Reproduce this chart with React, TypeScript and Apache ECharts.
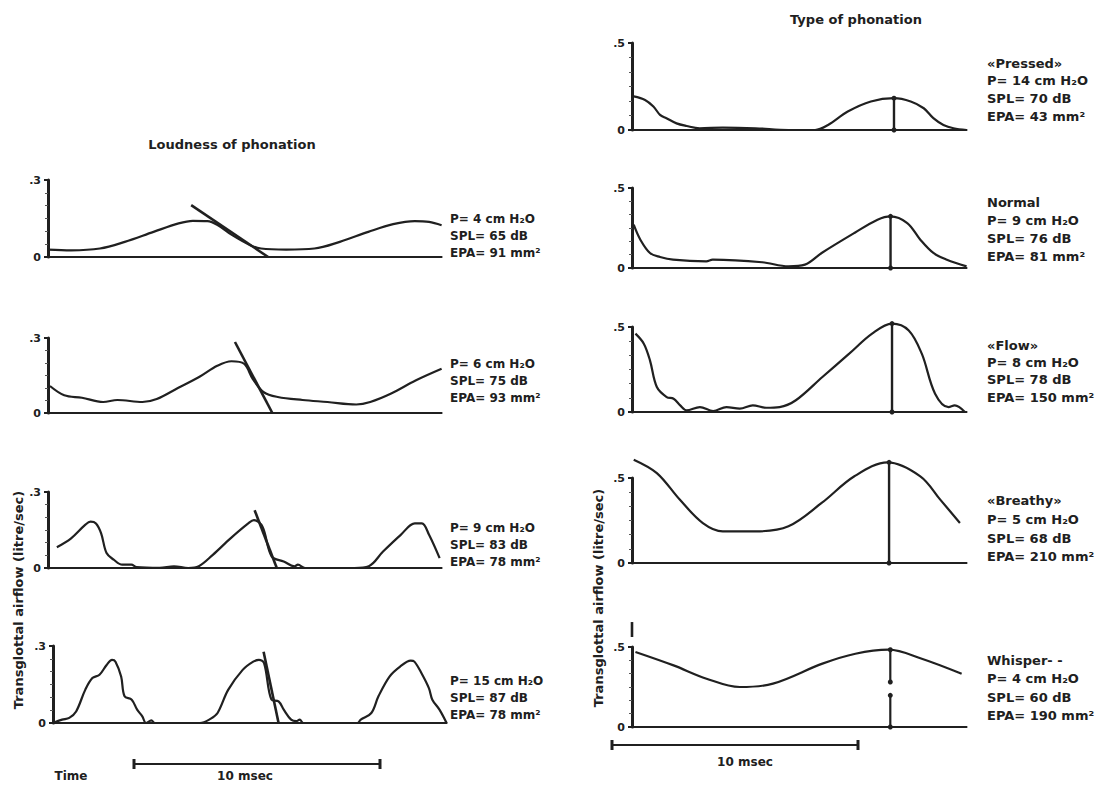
import React, { useEffect, useRef } from "react";
import * as echarts from "echarts";

// ---------- data (time in msec, transglottal airflow in litre/sec) ----------
const loudTitle = "Loudness of phonation";
const typeTitle = "Type of phonation";
const yAxisTitle = "Transglottal airflow (litre/sec)";
const timeLabel = "Time";
const scaleLabel = "10 msec";
const scaleLength = 10; // msec

const loudDuration = 16;
const typeDuration = 13.6;
const loudFullScale = 0.3;
const typeFullScale = 0.5;
const loudFullLabel = ".3";
const typeFullLabel = ".5";

const loud1Flow = [[0,0.029],[0.94,0.026],[2.11,0.033],[3.12,0.059],[4.29,0.098],[5.31,0.131],[5.89,0.141],[6.48,0.14],[6.91,0.124],[7.49,0.085],[8.22,0.046],[8.66,0.033],[9.68,0.029],[10.83,0.033],[11.86,0.059],[13.02,0.098],[14.03,0.128],[14.91,0.14],[15.49,0.137],[16.0,0.124]];
const loud1Slope = [[5.82,0.202],[8.95,0]];
const loud2Flow = [[0.08,0.108],[0.66,0.071],[1.38,0.061],[2.24,0.044],[2.82,0.052],[3.84,0.044],[4.42,0.056],[5.28,0.1],[6.16,0.145],[6.88,0.189],[7.46,0.207],[7.97,0.197],[8.32,0.137],[8.77,0.083],[9.34,0.064],[10.35,0.052],[11.36,0.044],[12.53,0.034],[13.1,0.044],[13.95,0.078],[14.94,0.13],[16.0,0.177]];
const loud2Slope = [[7.6,0.284],[9.12,0]];
const loud3Flow = [[0.36,0.082],[0.94,0.117],[1.51,0.17],[1.73,0.183],[1.95,0.176],[2.16,0.137],[2.38,0.059],[2.67,0.033],[3.02,0.013],[3.39,0.013],[3.6,0.004],[4.54,0.001],[5.12,0.007],[5.7,0],[6.13,0.007],[6.7,0.052],[7.42,0.117],[8.14,0.176],[8.37,0.189],[8.72,0.163],[9.09,0.046],[9.58,0.026],[10.02,0.007],[10.16,0.013],[10.45,0],[11.74,0],[12.46,0],[13.04,0.007],[13.62,0.065],[14.34,0.131],[14.91,0.176],[15.2,0.176],[15.49,0.131],[15.92,0.039]];
const loud3Slope = [[8.4,0.228],[9.3,0]];
const loud4Flow = [[0,0],[0.37,0.013],[0.66,0.02],[0.94,0.045],[1.31,0.129],[1.6,0.175],[1.89,0.188],[2.18,0.226],[2.4,0.246],[2.54,0.239],[2.77,0.181],[2.91,0.104],[3.2,0.091],[3.42,0.052],[3.63,0.026],[3.78,0],[4.0,0.01],[4.14,0],[5.97,0],[6.4,0.016],[6.69,0.039],[7.12,0.129],[7.71,0.207],[8.14,0.239],[8.37,0.246],[8.58,0.233],[8.88,0.091],[9.17,0.084],[9.38,0.052],[9.68,0.013],[9.89,0.007],[10.03,0.013],[10.18,0],[12.37,0],[12.51,0.013],[12.94,0.039],[13.23,0.104],[13.68,0.181],[14.11,0.22],[14.54,0.243],[14.69,0.239],[14.98,0.194],[15.28,0.136],[15.42,0.091],[15.71,0.052],[16.0,0]];
const loud4Slope = [[8.56,0.278],[9.17,0]];

const loudInfo = [
  ["P= 4 cm H₂O", "SPL= 65 dB", "EPA= 91 mm²"],
  ["P= 6 cm H₂O", "SPL= 75 dB", "EPA= 93 mm²"],
  ["P= 9 cm H₂O", "SPL= 83 dB", "EPA= 78 mm²"],
  ["P= 15 cm H₂O", "SPL= 87 dB", "EPA= 78 mm²"],
];

const type1Flow = [[0.07,0.193],[0.53,0.173],[0.87,0.135],[1.14,0.087],[1.4,0.068],[1.81,0.038],[2.22,0.023],[2.75,0.01],[3.69,0.014],[5.02,0.01],[6.36,0],[7.44,0],[7.97,0.029],[8.77,0.106],[9.71,0.164],[10.65,0.183],[11.33,0.164],[11.86,0.125],[12.25,0.068],[12.66,0.029],[13.07,0.01],[13.6,0]];
const type1Peak = [[10.65,0],[10.65,0.183]];
const type2Flow = [[0.07,0.271],[0.34,0.177],[0.73,0.094],[1.14,0.069],[1.67,0.052],[3.02,0.042],[3.28,0.052],[5.29,0.036],[6.36,0.01],[7.03,0.021],[7.71,0.094],[9.04,0.219],[9.98,0.302],[10.51,0.323],[11.19,0.281],[11.72,0.177],[12.25,0.094],[12.8,0.052],[13.6,0.01]];
const type2Peak = [[10.51,0],[10.51,0.323]];
const type3Flow = [[0.14,0.461],[0.48,0.402],[0.73,0.304],[1.01,0.147],[1.41,0.088],[1.69,0.078],[1.96,0.039],[2.22,0.01],[2.76,0.029],[3.3,0.006],[3.84,0.029],[4.38,0.02],[4.91,0.039],[5.45,0.025],[6.0,0.029],[6.66,0.069],[7.74,0.206],[8.83,0.343],[9.76,0.461],[10.57,0.52],[11.25,0.48],[11.78,0.343],[12.32,0.108],[12.87,0.029],[13.12,0.039],[13.53,0]];
const type3Peak = [[10.57,0],[10.57,0.52]];
const type4Flow = [[0.07,0.608],[1.01,0.529],[1.94,0.373],[2.88,0.235],[3.69,0.186],[5.02,0.186],[6.36,0.216],[7.71,0.353],[9.04,0.51],[10.39,0.592],[11.72,0.51],[12.53,0.373],[13.33,0.235]];
const type4Peak = [[10.45,0],[10.45,0.592]];
const type5Flow = [[0.14,0.469],[1.69,0.385],[3.03,0.302],[4.38,0.25],[5.73,0.271],[7.74,0.396],[9.08,0.458],[10.43,0.483],[11.78,0.427],[13.4,0.333]];
const type5PeakUpper = [[10.5,0.483],[10.5,0.281]];
const type5PeakLower = [[10.5,0.198],[10.5,0]];
const type5AxisMark = [[0,0.5625],[0,0.656]];

const typeNames = ["«Pressed»", "Normal", "«Flow»", "«Breathy»", "Whisper- -"];
const typeInfo = [
  ["P= 14 cm H₂O", "SPL= 70 dB", "EPA= 43 mm²"],
  ["P= 9 cm H₂O", "SPL= 76 dB", "EPA= 81 mm²"],
  ["P= 8 cm H₂O", "SPL= 78 dB", "EPA= 150 mm²"],
  ["P= 5 cm H₂O", "SPL= 68 dB", "EPA= 210 mm²"],
  ["P= 4 cm H₂O", "SPL= 60 dB", "EPA= 190 mm²"],
];

// ---------- layout / style ----------
const INK = "#202020";
const FONT = '"DejaVu Sans", "Liberation Sans", sans-serif';
const PX_PER_MS = 24.6;

type Panel = {
  flow: number[][];
  slopes: number[][][];
  peaks: number[][][];
  dashed: number[][][];
  full: number;
  fullLabel: string;
  dur: number;
  left: number;
  top: number;
  bottom: number;
};

const panels: Panel[] = [
  { flow: loud1Flow, slopes: [loud1Slope], peaks: [], dashed: [], full: loudFullScale, fullLabel: loudFullLabel, dur: loudDuration, left: 48, top: 180, bottom: 257 },
  { flow: loud2Flow, slopes: [loud2Slope], peaks: [], dashed: [], full: loudFullScale, fullLabel: loudFullLabel, dur: loudDuration, left: 48, top: 338, bottom: 413 },
  { flow: loud3Flow, slopes: [loud3Slope], peaks: [], dashed: [], full: loudFullScale, fullLabel: loudFullLabel, dur: loudDuration, left: 48, top: 492, bottom: 568 },
  { flow: loud4Flow, slopes: [loud4Slope], peaks: [], dashed: [], full: loudFullScale, fullLabel: loudFullLabel, dur: loudDuration, left: 53, top: 646, bottom: 723 },
  { flow: type1Flow, slopes: [], peaks: [type1Peak], dashed: [], full: typeFullScale, fullLabel: typeFullLabel, dur: typeDuration, left: 632, top: 43, bottom: 130 },
  { flow: type2Flow, slopes: [], peaks: [type2Peak], dashed: [], full: typeFullScale, fullLabel: typeFullLabel, dur: typeDuration, left: 632, top: 188, bottom: 268 },
  { flow: type3Flow, slopes: [], peaks: [type3Peak], dashed: [], full: typeFullScale, fullLabel: typeFullLabel, dur: typeDuration, left: 632, top: 327, bottom: 412 },
  { flow: type4Flow, slopes: [], peaks: [type4Peak], dashed: [], full: typeFullScale, fullLabel: typeFullLabel, dur: typeDuration, left: 632, top: 478, bottom: 563 },
  { flow: type5Flow, slopes: [type5AxisMark], peaks: [], dashed: [type5PeakUpper, type5PeakLower], full: typeFullScale, fullLabel: typeFullLabel, dur: typeDuration, left: 632, top: 647, bottom: 727 },
];

const loudTextPos = [
  { x: 450, y: [219, 236, 253] },
  { x: 450, y: [364, 381, 398] },
  { x: 450, y: [528, 545, 562] },
  { x: 450, y: [681, 698, 715] },
];
const typeTextPos = [
  { x: 987, y: [63, 80, 98, 116] },
  { x: 987, y: [202, 220, 238, 256] },
  { x: 987, y: [345, 362, 379, 397] },
  { x: 987, y: [500, 519, 538, 556] },
  { x: 987, y: [660, 678, 697, 715] },
];

function txt(text: string, x: number, y: number, size: number, align = "left", rotation = 0) {
  return {
    type: "text",
    x,
    y,
    rotation,
    silent: true,
    style: {
      text,
      fill: INK,
      font: `bold ${size}px ${FONT}`,
      textAlign: align,
      textVerticalAlign: "middle",
    },
  };
}

function scaleBar(x1: number, x2: number, y: number) {
  const ls = { stroke: INK, lineWidth: 2 };
  return [
    { type: "line", silent: true, shape: { x1, y1: y, x2, y2: y }, style: ls },
    { type: "line", silent: true, shape: { x1, y1: y - 5, x2: x1, y2: y + 5 }, style: { stroke: INK, lineWidth: 3 } },
    { type: "line", silent: true, shape: { x1: x2, y1: y - 5, x2, y2: y + 5 }, style: { stroke: INK, lineWidth: 3 } },
  ];
}

function buildOption() {
  const grid: any[] = [];
  const xAxis: any[] = [];
  const yAxis: any[] = [];
  const series: any[] = [];

  panels.forEach((p, i) => {
    grid.push({ left: p.left, top: p.top, width: p.dur * PX_PER_MS, height: p.bottom - p.top, containLabel: false });
    xAxis.push({
      gridIndex: i, type: "value", min: 0, max: p.dur,
      axisLine: { show: true, onZero: true, lineStyle: { color: INK, width: 2 } },
      axisTick: { show: false }, axisLabel: { show: false }, splitLine: { show: false },
    });
    yAxis.push({
      gridIndex: i, type: "value", min: 0, max: p.full, interval: p.full,
      axisLine: { show: true, lineStyle: { color: INK, width: 3 } },
      axisTick: { show: true, length: 4, lineStyle: { color: INK, width: 2 } },
      minorTick: { show: true, splitNumber: 6, length: 3, lineStyle: { color: "#555", width: 1 } },
      axisLabel: {
        show: true, margin: 7, color: INK, fontSize: 11, fontWeight: "bold", fontFamily: FONT,
        formatter: (v: number) => (Math.abs(v) < 1e-9 ? "0" : p.fullLabel),
      },
      splitLine: { show: false },
    });
    series.push({
      type: "line", xAxisIndex: i, yAxisIndex: i, data: p.flow, showSymbol: false,
      smooth: 0.35, clip: false, silent: true,
      lineStyle: { color: INK, width: 2.2 },
    });
    p.slopes.forEach((s) =>
      series.push({
        type: "line", xAxisIndex: i, yAxisIndex: i, data: s, showSymbol: false,
        clip: false, silent: true, lineStyle: { color: INK, width: 2.6 },
      })
    );
    p.peaks.forEach((s) =>
      series.push({
        type: "line", xAxisIndex: i, yAxisIndex: i, data: s, showSymbol: true,
        symbol: "circle", symbolSize: 5, itemStyle: { color: INK },
        clip: false, silent: true, lineStyle: { color: INK, width: 2.4 },
      })
    );
    p.dashed.forEach((s) =>
      series.push({
        type: "line", xAxisIndex: i, yAxisIndex: i, data: s, showSymbol: true,
        symbol: "circle", symbolSize: 5, itemStyle: { color: INK },
        clip: false, silent: true, lineStyle: { color: INK, width: 2.2 },
      })
    );
  });

  const graphic: any[] = [];
  graphic.push(txt(loudTitle, 232, 144, 13, "center"));
  graphic.push(txt(typeTitle, 856, 19, 13, "center"));
  loudInfo.forEach((lines, i) => {
    lines.forEach((l, j) => graphic.push(txt(l, loudTextPos[i].x, loudTextPos[i].y[j], 12)));
  });
  typeInfo.forEach((lines, i) => {
    const all = [typeNames[i], ...lines];
    all.forEach((l, j) => graphic.push(txt(l, typeTextPos[i].x, typeTextPos[i].y[j], 13)));
  });
  graphic.push(txt(yAxisTitle, 18, 600, 13, "center", Math.PI / 2));
  graphic.push(txt(yAxisTitle, 598, 598, 13, "center", Math.PI / 2));
  const leftBarStart = 134;
  const rightBarStart = 612;
  graphic.push(...scaleBar(leftBarStart, leftBarStart + scaleLength * PX_PER_MS, 764));
  graphic.push(...scaleBar(rightBarStart, rightBarStart + scaleLength * PX_PER_MS, 745));
  graphic.push(txt(timeLabel, 71, 776, 12, "center"));
  graphic.push(txt(scaleLabel, 245, 776, 12, "center"));
  graphic.push(txt(scaleLabel, 745, 762, 12, "center"));

  return {
    animation: false,
    backgroundColor: "#ffffff",
    grid, xAxis, yAxis, series, graphic,
  };
}

export default function App() {
  const ref = useRef<HTMLDivElement>(null);
  useEffect(() => {
    document.body.style.margin = "0";
    const chart = echarts.init(ref.current!, null, { renderer: "svg" });
    chart.setOption(buildOption() as any);
    return () => chart.dispose();
  }, []);
  return <div ref={ref} style={{ width: 1102, height: 788 }} />;
}
